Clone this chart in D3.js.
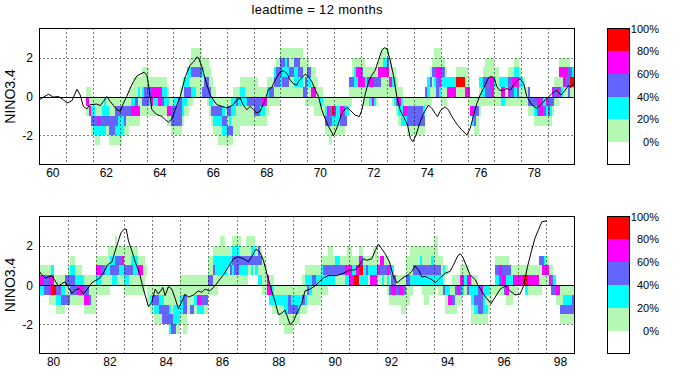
<!DOCTYPE html>
<html><head><meta charset="utf-8">
<script src="https://cdn.jsdelivr.net/npm/d3@7"></script>
<style>
body{margin:0;background:#fff}
svg{display:block;font-family:"Liberation Sans",Arial,Helvetica,sans-serif}
</style>
</head><body>
<svg id="chart" width="680" height="381"></svg>
<script>
// ---------- data ----------
const titleText = "leadtime = 12 months";
const yLabelText = "NINO3.4";
const levelColors = ["#ffffff", "#b4f8b4", "#00ffff", "#6464ff", "#ff00ff", "#ff0000"];
const levelLabels = ["0%", "20%", "40%", "60%", "80%", "100%"];
// lower edge of each NINO3.4 bin (0.5 wide), top row first
const binLows = [2, 1.5, 1, 0.5, 0, -0.5, -1, -1.5, -2, -2.5];
const yTicks = [-2, 0, 2];
const yGrid = [-2, 2];
const span1 = [1960, 1980];
const span2 = [1980, 1999];
const xTicks1 = [1960, 1962, 1964, 1966, 1968, 1970, 1972, 1974, 1976, 1978];
const xTickLabels1 = ["60", "62", "64", "66", "68", "70", "72", "74", "76", "78"];
const xTicks2 = [1980, 1982, 1984, 1986, 1988, 1990, 1992, 1994, 1996, 1998];
const xTickLabels2 = ["80", "82", "84", "86", "88", "90", "92", "94", "96", "98"];

// monthly probability class per bin (top bin first); "n*" repeats a month; '.' = none, 1..5 = class
const cols1 = [
  "21*.....|.....",
  "....1|41...", "....1|14...", ".....|1231.",
  // 1962
  ".....|1232.", ".....|11321", ".....|11421", ".....|1132.", ".....|1232.", ".....|2232.", ".....|1231.", "3*.....|11331", ".....|13321", ".....|13221",
  // 1963
  ".....|13221", ".....|1322.", ".....|1331.", ".....|1311.", "....1|131..", "....1|241..", "...11|241..", "...11|341..", "...12|141..", "...11|11...", "..112|31...", "..113|31...",
  // 1964
  "..113|31...", "...13|21...", "...14|41...", "...14|21...", "...14|21...", "...14|41...", "...14|41...", "...12|31...", "...12|21...", "....1|241..", ".....|141..", ".....|1331.",
  // 1965
  ".....|2331.", ".....|2331.", ".....|3331.", "....1|3331.", "...11|221..", "...23|21...", "..223|11...", ".1213|1....", "11312|1....", "11312|.....", "11311|.....", "11311|.....",
  // 1966
  "11311|.....", ".1213|.....", ".1133|.....", ".1133|1....", "..113|21...", "...11|231..", "....1|1321.", ".....|1321.", ".....|13211", ".....|13211", ".....|12321", ".....|11321",
  // 1967
  ".....|13131", ".....|13231", ".....|22131", "....1|2211.", "....1|3111.", "....1|2111.", "...12|211..", "...12|211..", "...11|211..", "3*...11|311..",
  // 1968
  "...11|331..", "...11|331..", "....1|331..", "....1|321..", "....1|421..", "....1|411..", "...12|11...", "...13|1....", "...13|1....", "..231|1....", ".1331|1....", ".1331|1....",
  // 1969
  "13321|.....", "13231|.....", "12231|.....", "13231|.....", "11311|.....", "11311|.....", "13221|.....", "13221|.....", "13321|.....", "11321|.....", ".1113|.....", ".1133|1....",
  // 1970
  ".1321|1....", "..321|1....", "..114|1....", "..114|11...", "...11|11...", "....1|11...", "....1|21...", ".....|11...", ".....|1231.", ".....|1431.", ".....|13311", ".....|1521.",
  // 1971
  ".....|1421.", ".....|1221.", ".....|1221.", ".....|1431.", ".....|1331.", ".....|123..", ".....|12...", "...31|1....", ".1131|.....", ".1221|.....", ".1421|.....", ".1441|.....",
  // 1972
  ".1341|.....", ".1141|1....", "..121|1....", "..131|1....", "..141|2....", "..141|4....", "..131|2....", "..131|1....", ".1431|.....", "11411|.....", "12411|.....", "12411|.....",
  // 1973
  "13411|.....", ".1141|.....", "..121|1....", "..121|2....", "...11|31...", "....1|421..", "....1|222..", ".....|142..", ".....|142..", "3*.....|1331.",
  // 1974
  "4*.....|1331.", ".....|1231.", "....3|1....", "...22|1....", "..131|1....", ".1311|.....", "11321|.....", "11433|.....", "11442|.....",
  // 1975
  ".1321|1....", ".1321|1....", "..121|1....", "4*...24|.....", "4*..151|.....", "..114|.....",
  // 1976
  "...14|1....", ".....|14...", ".....|142..", ".....|1331.", ".....|1311.", "...21|11...", "...22|1....", "..132|1....", ".1133|1....", ".1133|1....", ".1143|1....", ".1144|1....",
  // 1977
  "..121|1....", "..111|1....", "...21|1....", "...24|2....", "...24|2....", "...21|1....", "..134|1....", "..133|1....", "..143|1....", ".1242|1....", ".1243|1....", "..121|1....",
  // 1978
  "...21|1....", "...11|1....", "....1|1....", "....3|31...", ".....|31...", ".....|31...", ".....|321..", ".....|431..", ".....|441..", ".....|341..", ".....|231..", ".....|421..",
  // 1979
  ".....|331..", ".....|321..", "....4|31...", "...13|1....", "...14|1....", ".1413|.....", ".1412|.....", ".1441|.....", ".1431|.....", ".1333|.....", "..351|.....", "..251|....."
];

const cols2 = [
  // 1980
  "...14|2....", "...14|2....", "...13|3....", "...13|3....", "...14|41...", "...24|51...", "....1|51...", "....1|321..", "....1|321..", "....1|231..", "....1|231..", "....3|13...",
  // 1981
  "...13|13...", "..123|31...", "..123|31...", "...12|31...", "...12|41...", "...12|41...", "....2|41...", "....1|341..", "....1|341..", "....1|131..", "....1|111..", "....1|111..",
  // 1982
  "..142|1....", "..142|1....", "..131|1....", "..131|1....", "..121|1....", ".1121|1....", ".1231|.....", ".1232|.....", "11332|.....", ".1331|.....", ".1321|.....", ".1421|.....",
  // 1983
  ".1132|1....", ".1132|1....", ".1131|1....", ".1231|1....", ".1221|1....", ".1221|1....", "..141|1....", "..141|1....", "..111|1....", "...1.|.....", ".....|11...", ".....|121..",
  // 1984
  ".....|131..", ".....|1321.", ".....|1321.", ".....|1231.", ".....|1233.", ".....|1133.", ".....|1133.", ".....|11232", ".....|11133", ".....|11223", ".....|11221", ".....|11221",
  // 1985
  "....1|1221.", "....1|13311", "....1|13311", "....1|111..", "....1|113..", "....1|113..", "....1|121..", "....1|142..", "....1|142..", "....1|132..", "....1|131..", "....1|131..",
  // 1986
  "..113|1....", "..113|1....", ".1231|1....", ".1221|1....", ".1221|.....", "11221|.....", "11221|.....", ".1221|.....", ".1211|.....", ".1231|.....", "12321|.....", "12331|.....",
  // 1987
  "12331|.....", "11321|.....", ".1321|.....", ".1321|.....", "11321|.....", "1131.|.....", "1232.|.....", "1231.|.....", ".132.|.....", ".3312|.....", ".1312|.....", "..111|1....",
  // 1988
  "...11|1....", "....4|4....", "....1|42...", "....1|221..", ".....|121..", ".....|121..", ".....|1211.", ".....|1211.", ".....|12211", ".....|12211", ".....|13311", ".....|12311",
  // 1989
  ".....|1231.", ".....|1231.", ".....|1221.", ".....|121..", "....1|131..", "...12|121..", "...12|31...", "...12|21...", "...13|11...", "...13|11...", "...12|11...", "...12|11...",
  // 1990
  "..122|1....", "..132|1....", "..132|1....", ".1132|.....", ".1132|.....", "..132|.....", "..231|.....", "..231|.....", "..131|.....", "..131|.....", "..142|.....", ".1142|.....",
  // 1991
  ".1144|.....", "..124|.....", "..125|.....", "..145|.....", ".1452|.....", ".1352|.....", "..122|.....", "..132|.....", "..121|.....", "..124|.....", ".1124|.....", ".1124|.....",
  // 1992
  "..141|.....", "..431|.....", "..432|.....", "..131|.....", "..142|1....", "...31|31...", "...23|41...", "....3|41...", "....1|31...", "....1|41...", "....1|411..", "....1|311..",
  // 1993
  "..113|11...", "..113|11...", ".1112|1....", ".1132|.....", ".1132|.....", ".1132|.....", ".1232|.....", ".1132|1....", ".1132|11...", ".1132|11...", ".1132|1....", ".1232|1....",
  // 1994
  "11132|1....", "11132|.....", "..132|1....", "..112|1....", "...21|3....", "...1.|211..", ".....|241..", ".....|141..", "....1|131..", "....1|311..", "....1|41...", "...14|31...",
  // 1995
  "...14|2....", "...12|1....", "...14|3....", "....4|2....", "....1|2211.", "....1|2321.", "....1|2321.", ".....|3331.", ".....|4331.", ".....|2221.", ".....|2121.", ".....|211..",
  // 1996
  ".....|11...", ".....|1....", "..132|1....", "..132|1....", "..143|1....", "..134|1....", "..134|3....", "..132|41...", "...32|11...", "...12|11...", "...14|1....", "...14|1....",
  // 1997
  "...14|.....", "...14|.....", "...15|.....", "...15|2....", "5*...14|1....", "..311|1....", "..341|.....", "..241|.....",
  // 1998
  "..141|.....", "...14|.....", "...13|3....", "....2|3....", ".....|41...", ".....|41...", ".....|1131.", "4*.....|1231.", ".....|1331."
];

// observed NINO3.4 [year, value]
const line1 = [[1960.00,-0.17],[1960.15,-0.03],[1960.34,0.12],[1960.52,-0.03],[1960.71,0.0],[1960.90,-0.17],[1961.02,-0.34],[1961.21,-0.22],[1961.40,0.37],[1961.52,0.08],[1961.64,-0.51],[1961.77,-0.64],[1961.89,-0.42],[1962.14,-0.39],[1962.27,-0.47],[1962.39,-0.25],[1962.52,0],[1962.64,-0.25],[1962.77,-0.47],[1962.89,-0.68],[1963.02,-0.76],[1963.14,-0.34],[1963.26,0],[1963.39,0.42],[1963.51,0.76],[1963.64,1.05],[1963.76,1.15],[1963.91,1.25],[1964.01,1.10],[1964.07,0.68],[1964.20,-0.68],[1964.39,-0.93],[1964.57,-1.02],[1964.70,-1.19],[1964.82,-1.32],[1964.95,-1.15],[1965.07,-0.68],[1965.26,0],[1965.45,1.02],[1965.63,1.61],[1965.76,1.78],[1965.88,2.03],[1965.94,2.0],[1966.07,1.53],[1966.26,0.59],[1966.38,0.08],[1966.50,-0.17],[1966.63,-0.42],[1966.82,-0.51],[1967.00,-0.59],[1967.13,-0.51],[1967.25,-0.42],[1967.38,-0.17],[1967.50,-0.08],[1967.63,-0.47],[1967.75,-0.68],[1967.88,-0.51],[1968.00,-0.68],[1968.12,-0.85],[1968.25,-0.76],[1968.44,-0.17],[1968.56,0.37],[1968.69,0.47],[1968.75,0.68],[1968.87,0.98],[1969.00,1.27],[1969.12,1.32],[1969.25,1.19],[1969.37,0.85],[1969.50,0.64],[1969.62,0.59],[1969.68,0.76],[1969.81,0.97],[1969.93,1.15],[1970.06,1.02],[1970.18,0.76],[1970.31,0.34],[1970.43,0],[1970.55,-0.68],[1970.74,-1.36],[1970.93,-1.86],[1970.99,-2.03],[1971.12,-1.6],[1971.30,-0.87],[1971.49,-0.56],[1971.61,-0.70],[1971.80,-0.96],[1971.96,-1.03],[1972.05,-0.70],[1972.18,0.15],[1972.30,0.75],[1972.42,1.09],[1972.55,1.35],[1972.67,1.86],[1972.80,2.38],[1972.89,2.51],[1972.99,2.46],[1973.11,1.86],[1973.23,1.09],[1973.36,-0.02],[1973.48,-0.70],[1973.61,-1.04],[1973.76,-1.47],[1973.86,-2.15],[1973.96,-2.32],[1974.08,-1.97],[1974.21,-1.38],[1974.36,-0.87],[1974.54,-0.44],[1974.67,-0.62],[1974.79,-0.87],[1974.88,-1.04],[1975.00,-0.70],[1975.17,-0.53],[1975.29,-0.70],[1975.42,-1.04],[1975.60,-1.42],[1975.79,-1.73],[1975.98,-1.98],[1976.10,-1.64],[1976.23,-0.96],[1976.35,-0.36],[1976.47,0.07],[1976.62,0.46],[1976.79,0.97],[1976.91,1.04],[1977.00,0.92],[1977.10,0.50],[1977.20,0.32],[1977.35,0.32],[1977.47,0.41],[1977.60,0.32],[1977.72,0.58],[1977.87,0.84],[1977.97,0.92],[1978.10,0.67],[1978.22,-0.02],[1978.41,-0.44],[1978.59,-0.61],[1978.78,-0.36],[1978.97,-0.10],[1979.15,0.15],[1979.34,0.32],[1979.49,0.07],[1979.65,0.32],[1979.78,0.58],[1979.86,0.46],[1979.96,0.67]];

const line2 = [[1980.00,0.69],[1980.08,0.52],[1980.20,0.36],[1980.32,0.41],[1980.44,0.48],[1980.56,0.20],[1980.67,-0.05],[1980.79,0.07],[1980.91,0.16],[1981.03,-0.13],[1981.15,-0.43],[1981.27,-0.26],[1981.42,-0.18],[1981.56,-0.46],[1981.70,-0.21],[1981.86,0.11],[1982.04,0.28],[1982.15,0.36],[1982.30,0.69],[1982.41,1.02],[1982.57,1.18],[1982.69,1.75],[1982.80,2.25],[1982.89,2.66],[1983.01,2.85],[1983.08,2.85],[1983.16,2.25],[1983.28,1.75],[1983.40,1.18],[1983.55,0.61],[1983.69,-0.21],[1983.87,-1.11],[1983.99,-0.87],[1984.11,-0.21],[1984.22,-0.46],[1984.38,-0.13],[1984.46,-0.54],[1984.58,-0.08],[1984.70,-0.21],[1984.82,-0.70],[1984.93,-1.20],[1985.05,-0.87],[1985.17,-0.46],[1985.29,-0.62],[1985.47,-0.51],[1985.64,-0.30],[1985.76,-0.38],[1985.88,-0.21],[1986.04,-0.30],[1986.18,-0.13],[1986.36,0.20],[1986.53,0.52],[1986.71,0.93],[1986.89,1.34],[1987.07,1.43],[1987.24,1.34],[1987.42,1.18],[1987.54,1.46],[1987.69,1.84],[1987.83,1.67],[1987.95,1.26],[1988.07,0.61],[1988.21,-0.13],[1988.37,-0.87],[1988.49,-1.52],[1988.60,-1.44],[1988.72,-1.28],[1988.80,-1.61],[1988.90,-2.02],[1989.02,-1.85],[1989.14,-1.44],[1989.31,-0.95],[1989.43,-0.30],[1989.61,-0.21],[1989.79,-0.05],[1989.96,0.20],[1990.08,0.36],[1990.26,0.48],[1990.44,0.48],[1990.56,0.48],[1990.80,0.61],[1991.03,0.77],[1991.21,0.77],[1991.39,1.07],[1991.51,1.34],[1991.62,1.26],[1991.80,1.34],[1991.92,1.75],[1992.04,2.08],[1992.16,1.84],[1992.28,1.59],[1992.43,1.18],[1992.55,0.52],[1992.69,0.11],[1992.81,0.25],[1992.95,0.41],[1993.10,0.52],[1993.22,0.69],[1993.34,0.97],[1993.46,0.77],[1993.58,0.41],[1993.70,0.44],[1993.81,0.36],[1993.93,0.28],[1994.05,0.11],[1994.23,0.36],[1994.41,0.61],[1994.58,0.69],[1994.70,1.02],[1994.86,1.51],[1994.94,1.59],[1995.03,1.43],[1995.15,1.02],[1995.29,0.52],[1995.47,0.28],[1995.59,-0.05],[1995.77,-0.46],[1995.89,-0.70],[1996.04,-0.95],[1996.18,-0.62],[1996.36,-0.21],[1996.54,-0.05],[1996.71,-0.30],[1996.89,-0.51],[1997.07,-0.46],[1997.19,-0.05],[1997.33,0.93],[1997.46,1.67],[1997.60,2.41],[1997.72,2.82],[1997.84,3.23],[1997.92,3.26],[1998.02,3.26]];

// ---------- drawing ----------
function expand(cols) {
  const out = [];
  cols.forEach(s => {
    let n = 1, str = s;
    if (s.indexOf("*") >= 0) { const p = s.split("*"); n = +p[0]; str = p[1]; }
    str = str.replace("|", "");
    for (let i = 0; i < n; i++) out.push(str);
  });
  return out;
}

const svg = d3.select("#chart");
const X0 = 39.5, X1 = 574.5;

svg.append("text").attr("x", 317).attr("y", 14).attr("text-anchor", "middle")
  .attr("font-size", 13).attr("textLength", 131).attr("lengthAdjust", "spacing").text(titleText);

const panels = [
  {top: 28.5, bottom: 164.5, span: span1, cols: cols1, line: line1, ticks: xTicks1, labels: xTickLabels1},
  {top: 216.5, bottom: 353.5, span: span2, cols: cols2, line: line2, ticks: xTicks2, labels: xTickLabels2}
];

panels.forEach((p, pi) => {
  const x = d3.scaleLinear().domain(p.span).range([X0, X1]);
  const y = d3.scaleLinear().domain([-3.5, 3.5]).range([p.bottom, p.top]);
  const g = svg.append("g");
  const clipId = "clip" + pi;
  svg.append("clipPath").attr("id", clipId).append("rect")
    .attr("x", X0).attr("y", p.top).attr("width", X1 - X0).attr("height", p.bottom - p.top);

  const months = expand(p.cols);
  const cells = [];
  months.forEach((str, t) => {
    for (let i = 0; i < str.length; i++) {
      const c = str[i];
      if (c !== ".") cells.push({t: t, bin: binLows[i], level: +c});
    }
  });
  const cg = g.append("g").attr("clip-path", "url(#" + clipId + ")").attr("shape-rendering", "crispEdges");
  cg.selectAll("rect").data(cells).enter().append("rect")
    .attr("x", d => Math.round(x(p.span[0] + d.t / 12)))
    .attr("width", d => Math.round(x(p.span[0] + (d.t + 1) / 12)) - Math.round(x(p.span[0] + d.t / 12)))
    .attr("y", d => Math.round(y(d.bin + 0.5)))
    .attr("height", d => Math.round(y(d.bin)) - Math.round(y(d.bin + 0.5)))
    .attr("fill", d => levelColors[d.level]);

  // dotted grid
  const years = d3.range(p.span[0] + 1, p.span[1]);
  g.selectAll("line.vg").data(years).enter().append("line")
    .attr("x1", d => Math.round(x(d)) + 0.5).attr("x2", d => Math.round(x(d)) + 0.5)
    .attr("y1", p.top).attr("y2", p.bottom)
    .attr("stroke", "#000").attr("stroke-width", 1).attr("stroke-dasharray", "1,3");
  g.selectAll("line.hg").data(yGrid).enter().append("line")
    .attr("x1", X0).attr("x2", X1)
    .attr("y1", d => Math.round(y(d)) + 0.5).attr("y2", d => Math.round(y(d)) + 0.5)
    .attr("stroke", "#000").attr("stroke-width", 1).attr("stroke-dasharray", "1,3");
  // zero line
  g.append("line").attr("x1", X0).attr("x2", X1)
    .attr("y1", Math.round(y(0)) + 0.5).attr("y2", Math.round(y(0)) + 0.5)
    .attr("stroke", "#000").attr("stroke-width", 1);

  // observed line
  g.append("path").datum(p.line).attr("clip-path", "url(#" + clipId + ")")
    .attr("d", d3.line().x(d => x(d[0])).y(d => y(d[1])))
    .attr("fill", "none").attr("stroke", "#000").attr("stroke-width", 1);

  // frame
  g.append("rect").attr("x", X0).attr("y", p.top).attr("width", X1 - X0).attr("height", p.bottom - p.top)
    .attr("fill", "none").attr("stroke", "#000").attr("stroke-width", 1);

  // y tick labels
  g.selectAll("text.yt").data(yTicks).enter().append("text")
    .attr("x", 33).attr("y", d => y(d) + 4.5).attr("text-anchor", "end").attr("font-size", 12)
    .text(d => d);
  // x tick labels (centred on the year)
  g.selectAll("text.xt").data(p.ticks).enter().append("text")
    .attr("x", d => x(d + 0.5)).attr("y", p.bottom + 12.5).attr("text-anchor", "middle").attr("font-size", 12)
    .text((d, i) => p.labels[i]);
  // y label
  const cy = (p.top + p.bottom) / 2;
  g.append("text").attr("transform", "translate(15," + cy + ") rotate(-90)")
    .attr("text-anchor", "middle").attr("font-size", 14).text(yLabelText);

  // colour bar
  const cb = d3.scaleLinear().domain([0, 6]).range([p.bottom, p.top]);
  const cbg = g.append("g").attr("shape-rendering", "crispEdges");
  cbg.selectAll("rect").data(levelColors).enter().append("rect")
    .attr("x", 607.5).attr("width", 22)
    .attr("y", (d, i) => cb(i + 1)).attr("height", (d, i) => cb(i) - cb(i + 1))
    .attr("fill", d => d);
  g.append("rect").attr("x", 607.5).attr("y", p.top).attr("width", 22).attr("height", p.bottom - p.top)
    .attr("fill", "none").attr("stroke", "#000");
  g.selectAll("text.cb").data(levelLabels).enter().append("text")
    .attr("x", 659).attr("y", (d, i) => cb(i + 1) + 4).attr("text-anchor", "end").attr("font-size", 11)
    .text(d => d);
});
</script>
</body></html>
